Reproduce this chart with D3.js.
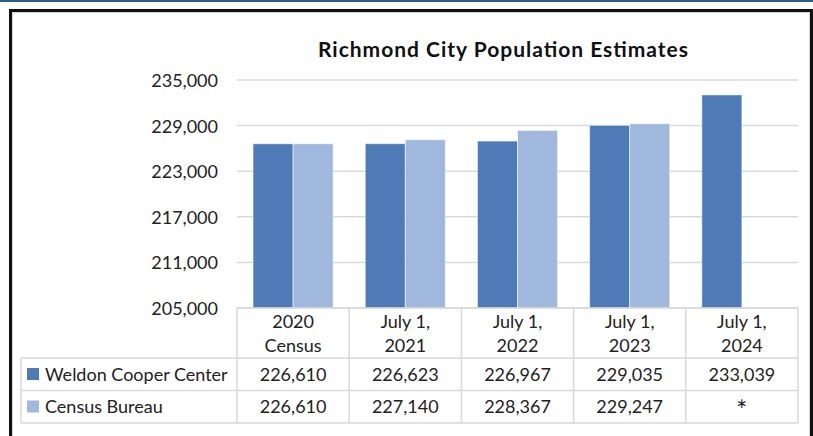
<!doctype html>
<html lang="en">
<head>
  <meta charset="utf-8">
  <style>
    body { margin: 0; background: #fff; }
    svg { display: block; }
    text { font-family: Lato, "Open Sans", sans-serif; fill: #222; }
    .title { font-size: 21px; font-weight: bold; fill: #111; }
    .tick text { font-size: 18px; fill: #222; }
    .cell { font-size: 18px; }
  </style>
  <script src="https://d3js.org/d3.v7.min.js"></script>
</head>
<body>
  <script>
    const categories = ["2020 Census", "July 1, 2021", "July 1, 2022", "July 1, 2023", "July 1, 2024"];
    const categoryLines = [["2020", "Census"], ["July 1,", "2021"], ["July 1,", "2022"], ["July 1,", "2023"], ["July 1,", "2024"]];
    const seriesNames = ["Weldon Cooper Center", "Census Bureau"];
    const weldonCooper = [226610, 226623, 226967, 229035, 233039];
    const censusBureau = [226610, 227140, 228367, 229247, null];
    const yTicks = [205000, 211000, 217000, 223000, 229000, 235000];
    const colors = ["#4e7bb6", "#a0b7de"];

    const W = 813, H = 436;
    const plotLeft = 237, plotRight = 798, plotTop = 80, plotBottom = 308;
    const tableLeft = 21;
    const headerBottom = 358, rowH = 32.5;

    const svg = d3.select("body").append("svg")
        .attr("width", W)
        .attr("height", H);

    // top blue rule and black frame
    svg.append("rect").attr("x", 0).attr("y", 0).attr("width", W).attr("height", 2).attr("fill", "#2c5a8a");
    svg.append("rect")
        .attr("x", 10.5).attr("y", 10.5).attr("width", 801).attr("height", 440)
        .attr("fill", "#fff").attr("stroke", "#111").attr("stroke-width", 3);
    svg.append("rect")
        .attr("x", 12.5).attr("y", 12.5).attr("width", 797).attr("height", 440)
        .attr("fill", "none").attr("stroke", "#d4d4d4").attr("stroke-width", 1);

    const x = d3.scaleBand()
        .domain(categories)
        .range([plotLeft, plotRight])
        .padding(0);

    const x1 = d3.scaleBand()
        .domain(seriesNames)
        .range([0, x.bandwidth()])
        .paddingInner(0)
        .paddingOuter(0.4);

    const y = d3.scaleLinear()
        .domain([205000, 235000])
        .range([plotBottom, plotTop]);

    // gridlines
    svg.append("g")
        .selectAll("line")
        .data(yTicks)
        .join("line")
        .attr("x1", plotLeft)
        .attr("x2", plotRight)
        .attr("y1", d => y(d))
        .attr("y2", d => y(d))
        .attr("stroke", "#d9d9d9")
        .attr("stroke-width", 1.5);

    // y axis labels
    const yAxis = svg.append("g")
        .attr("transform", `translate(${plotLeft},0)`)
        .call(d3.axisLeft(y).tickValues(yTicks).tickSize(0).tickPadding(19).tickFormat(d3.format(",")));
    yAxis.select(".domain").remove();
    yAxis.selectAll(".tick text").attr("font-family", null).attr("font-size", null).attr("dy", "0.36em");

    // title
    svg.append("text")
        .attr("class", "title")
        .attr("x", 503)
        .attr("y", 56.5)
        .attr("text-anchor", "middle")
        .attr("textLength", 370)
        .attr("lengthAdjust", "spacing")
        .text("Richmond City Population Estimates");

    // bars
    const series = [weldonCooper, censusBureau];
    const barData = [];
    series.forEach((vals, si) => {
      vals.forEach((v, ci) => {
        if (v != null) barData.push({ s: seriesNames[si], si, c: categories[ci], v });
      });
    });

    svg.append("g")
        .selectAll("rect")
        .data(barData)
        .join("rect")
        .attr("x", d => x(d.c) + x1(d.s))
        .attr("y", d => y(d.v))
        .attr("width", x1.bandwidth())
        .attr("height", d => plotBottom - y(d.v))
        .attr("fill", d => colors[d.si])
        .attr("stroke", "rgba(255,255,255,0.55)")
        .attr("stroke-width", 1);

    // data table
    const tableBottom = headerBottom + rowH * seriesNames.length;
    const grid = svg.append("g").attr("stroke", "#d9d9d9").attr("stroke-width", 1.5);

    grid.append("line").attr("x1", plotLeft).attr("x2", plotRight).attr("y1", plotBottom).attr("y2", plotBottom);
    seriesNames.concat(["end"]).forEach((_, i) => {
      const yy = headerBottom + rowH * i;
      grid.append("line").attr("x1", tableLeft).attr("x2", plotRight).attr("y1", yy).attr("y2", yy);
    });
    grid.append("line").attr("x1", tableLeft).attr("x2", tableLeft).attr("y1", headerBottom).attr("y2", tableBottom);
    categories.forEach(c => {
      grid.append("line").attr("x1", x(c)).attr("x2", x(c)).attr("y1", plotBottom).attr("y2", tableBottom);
    });
    grid.append("line").attr("x1", plotRight).attr("x2", plotRight).attr("y1", plotBottom).attr("y2", tableBottom);

    // header cells
    const header = svg.append("g");
    categories.forEach((c, ci) => {
      const t = header.append("text")
          .attr("class", "cell")
          .attr("text-anchor", "middle")
          .attr("x", x(c) + x.bandwidth() / 2);
      categoryLines[ci].forEach((line, li) => {
        t.append("tspan")
            .attr("x", x(c) + x.bandwidth() / 2)
            .attr("y", 327.5 + li * 24.8)
            .text(line);
      });
    });

    // legend + value rows
    const fmt = d3.format(",");
    series.forEach((vals, si) => {
      const rowTop = headerBottom + rowH * si;
      const base = rowTop + 22.8;
      svg.append("rect")
          .attr("x", 27)
          .attr("y", rowTop + 10)
          .attr("width", 12)
          .attr("height", 12)
          .attr("fill", colors[si]);
      svg.append("text")
          .attr("class", "cell")
          .attr("x", 45)
          .attr("y", base)
          .text(seriesNames[si]);
      vals.forEach((v, ci) => {
        svg.append("text")
            .attr("class", "cell")
            .attr("text-anchor", "middle")
            .attr("x", x(categories[ci]) + x.bandwidth() / 2)
            .attr("y", v == null ? base + 7 : base)
            .style("font-size", v == null ? "26px" : null)
            .text(v == null ? "*" : fmt(v));
      });
    });
  </script>
</body>
</html>
